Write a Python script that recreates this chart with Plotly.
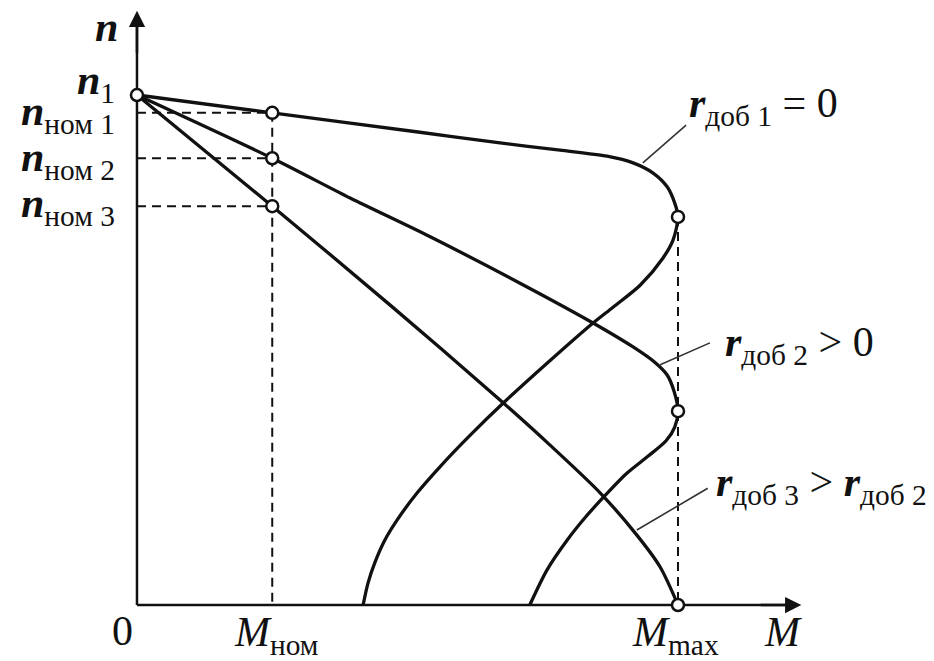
import plotly.graph_objects as go

# Synchronous speed, rated / breakdown torque (relative units)
N1 = 1.0
M_NOM = 0.25
M_MAX = 1.0
N_NOM = [0.965, 0.876, 0.782]      # rated speed for r_доб1, r_доб2, r_доб3
N_CRIT = [0.761, 0.380, 0.0]       # speed at breakdown torque

# Mechanical characteristics n(M)
M_R1 = [0.0, 0.25, 0.523, 0.671, 0.782, 0.869, 0.917, 0.954, 0.980, 0.994, 1.0,
        0.991, 0.972, 0.930, 0.880, 0.843, 0.760, 0.677, 0.616, 0.560, 0.518,
        0.481, 0.458, 0.440, 0.427, 0.418]
N_R1 = [1.0, 0.965, 0.927, 0.906, 0.892, 0.880, 0.867, 0.847, 0.820, 0.788, 0.761,
        0.716, 0.680, 0.627, 0.584, 0.553, 0.476, 0.396, 0.333, 0.271, 0.220,
        0.167, 0.127, 0.084, 0.043, 0.0]

M_R2 = [0.0, 0.25, 0.394, 0.542, 0.708, 0.843, 0.917, 0.957, 0.980, 0.993, 1.0,
        0.994, 0.978, 0.945, 0.904, 0.861, 0.828, 0.795, 0.758, 0.726]
N_R2 = [1.0, 0.876, 0.798, 0.722, 0.631, 0.553, 0.506, 0.476, 0.451, 0.418, 0.380,
        0.349, 0.322, 0.292, 0.257, 0.210, 0.171, 0.127, 0.069, 0.0]

M_R3 = [0.0, 0.25, 0.468, 0.671, 0.763, 0.856, 0.924, 0.967, 1.0]
N_R3 = [1.0, 0.782, 0.588, 0.402, 0.314, 0.220, 0.137, 0.0745, 0.0]

INK = "#111111"
FONT = "Liberation Serif"
SIZE = 42

fig = go.Figure()

# dashed construction lines
dash = dict(color=INK, width=2, dash="9px,6px")
fig.add_trace(go.Scatter(x=[M_NOM, M_NOM], y=[N_NOM[0], 0], mode="lines", line=dash))
for n in N_NOM:
    fig.add_trace(go.Scatter(x=[0, M_NOM], y=[n, n], mode="lines", line=dash))
fig.add_trace(go.Scatter(x=[M_MAX, M_MAX], y=[N_CRIT[0], 0], mode="lines", line=dash))

# axes
fig.add_trace(go.Scatter(x=[0, 1.215], y=[0, 0], mode="lines", line=dict(color=INK, width=2.5)))
fig.add_trace(go.Scatter(x=[0, 0], y=[0, 1.15], mode="lines", line=dict(color=INK, width=2.5)))

# characteristics
for mx, ny in [(M_R1, N_R1), (M_R2, N_R2), (M_R3, N_R3)]:
    fig.add_trace(go.Scatter(x=mx, y=ny, mode="lines",
                             line=dict(color=INK, width=3.3, shape="spline", smoothing=0.8)))

# leader lines to the curve labels
leaders = [([0.935, 1.015], [0.867, 0.941]),
           ([0.967, 1.059], [0.471, 0.514]),
           ([0.924, 1.055], [0.147, 0.229])]
for lx, ly in leaders:
    fig.add_trace(go.Scatter(x=lx, y=ly, mode="lines", line=dict(color="#333333", width=1.6)))

# characteristic points
fig.add_trace(go.Scatter(
    x=[0, M_NOM, M_NOM, M_NOM, M_MAX, M_MAX, M_MAX],
    y=[N1] + N_NOM + N_CRIT,
    mode="markers",
    marker=dict(symbol="circle", size=12, color="white", line=dict(color=INK, width=2.5)),
))

ann = []
# arrow heads of the axes
ann.append(dict(x=1.228, y=0, ax=1.15, ay=0, xref="x", yref="y", axref="x", ayref="y",
                text="", showarrow=True, arrowhead=2, arrowsize=1.3, arrowwidth=2.5,
                arrowcolor=INK))
ann.append(dict(x=0, y=1.165, ax=0, ay=1.08, xref="x", yref="y", axref="x", ayref="y",
                text="", showarrow=True, arrowhead=2, arrowsize=1.3, arrowwidth=2.5,
                arrowcolor=INK))


def label(x, y, text, xanchor="center", size=SIZE):
    ann.append(dict(x=x, y=y, xref="x", yref="y", text=text, showarrow=False,
                    xanchor=xanchor, yanchor="middle",
                    font=dict(family=FONT, size=size, color=INK)))


label(-0.0555, 1.133, "<b><i>n</i></b>")
label(-0.037, 1.0235, "<b><i>n</i></b><sub>1</sub>", xanchor="right")
label(-0.037, 0.963, "<b><i>n</i></b><sub>ном 1</sub>", xanchor="right")
label(-0.037, 0.8725, "<b><i>n</i></b><sub>ном 2</sub>", xanchor="right")
label(-0.037, 0.782, "<b><i>n</i></b><sub>ном 3</sub>", xanchor="right")

label(-0.0277, -0.051, "0")
label(0.1756, -0.0588, "<i>M</i><sub>ном</sub>", xanchor="left")
label(0.911, -0.0588, "<i>M</i><sub>max</sub>", xanchor="left")
label(1.194, -0.053, "<i>M</i>")

label(1.017, 0.978, "<b><i>r</i></b><sub>доб 1</sub> = 0", xanchor="left")
label(1.083, 0.510, "<b><i>r</i></b><sub>доб 2</sub> > 0", xanchor="left")
label(1.067, 0.235, "<b><i>r</i></b><sub>доб 3</sub> > <b><i>r</i></b><sub>доб 2</sub>",
      xanchor="left")

fig.update_layout(
    width=934, height=661, autosize=False,
    margin=dict(l=0, r=0, t=0, b=0),
    paper_bgcolor="white", plot_bgcolor="white",
    showlegend=False,
    xaxis=dict(range=[-0.2532, 1.4732], visible=False, fixedrange=True),
    yaxis=dict(range=[-0.1098, 1.1863], visible=False, fixedrange=True),
    annotations=ann,
)

fig.write_html("out.html")
